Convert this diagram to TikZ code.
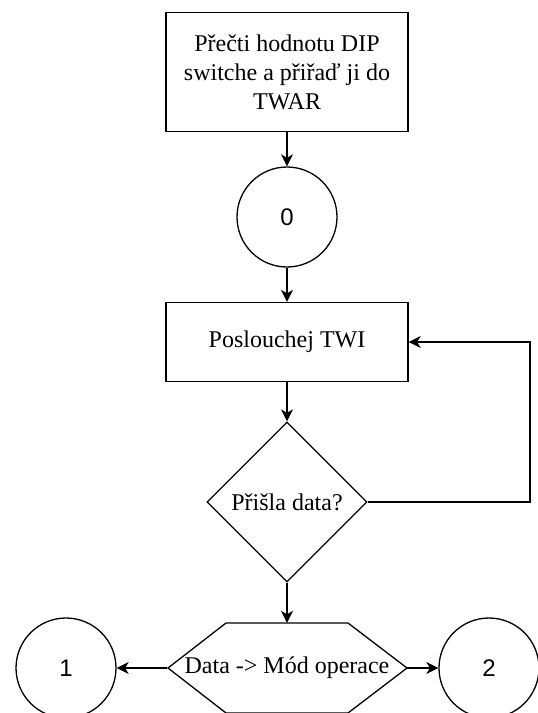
\documentclass[tikz,border=0pt]{standalone}
\usepackage{fontspec}
\setmainfont{Liberation Serif}
\newfontfamily\digitfont{Liberation Sans}
\usetikzlibrary{shapes.geometric,arrows.meta}

\tikzset{
  flow/.style={line width=1.3pt, draw=black},
  arr/.style={flow, -{Stealth[length=12pt,width=12pt,inset=3.5pt]}},
  stepbox/.style={flow, rectangle, minimum width=242pt, inner sep=0pt,
    align=center, font=\fontsize{24}{29}\selectfont},
  connector/.style={flow, circle, minimum size=100pt, inner sep=0pt,
    font=\digitfont\fontsize{24}{29}\selectfont},
  decision/.style={flow, diamond, minimum width=160pt, minimum height=160pt,
    inner sep=0pt, font=\fontsize{24}{29}\selectfont},
  hexframe/.style={rectangle, minimum width=239pt, minimum height=90pt,
    inner sep=0pt, font=\fontsize{24}{29}\selectfont}
}

\begin{document}
\begin{tikzpicture}[x=1pt,y=-1pt]
  \useasboundingbox (0,0) rectangle (538,713);
  \fill[white] (0,0) rectangle (538,713);

  % main flow
  \node[stepbox, minimum height=119pt] (read) at (287,72)
    {Přečti hodnotu DIP\\switche a přiřaď ji do\\TWAR};
  \node[connector] (c0) at (287,217) {0};
  \node[stepbox, minimum height=79pt] (listen) at (287,342) {Poslouchej TWI};
  \node[decision] (check) at (287,502) {Přišla data?};

  % hexagonal mode selector
  \node[hexframe] (mode) at (287,668) {Data -> Mód operace};
  \draw[flow] (168,668) -- (226,623) -- (348,623) -- (407,668)
              -- (348,713) -- (226,713) -- cycle;

  \node[connector] (c1) at (66,668) {1};
  \node[connector] (c2) at (489,668) {2};

  % connectors
  \draw[arr] (read.south) -- (c0.north);
  \draw[arr] (c0.south) -- (listen.north);
  \draw[arr] (listen.south) -- (check.north);
  \draw[arr] (check.south) -- (mode.north);
  \coordinate (loopcorner) at (530,502);
  \draw[arr] (check.east) -- (loopcorner) |- (listen.east);
  \draw[arr] (mode.west) -- (c1.east);
  \draw[arr] (mode.east) -- (c2.west);
\end{tikzpicture}
\end{document}
